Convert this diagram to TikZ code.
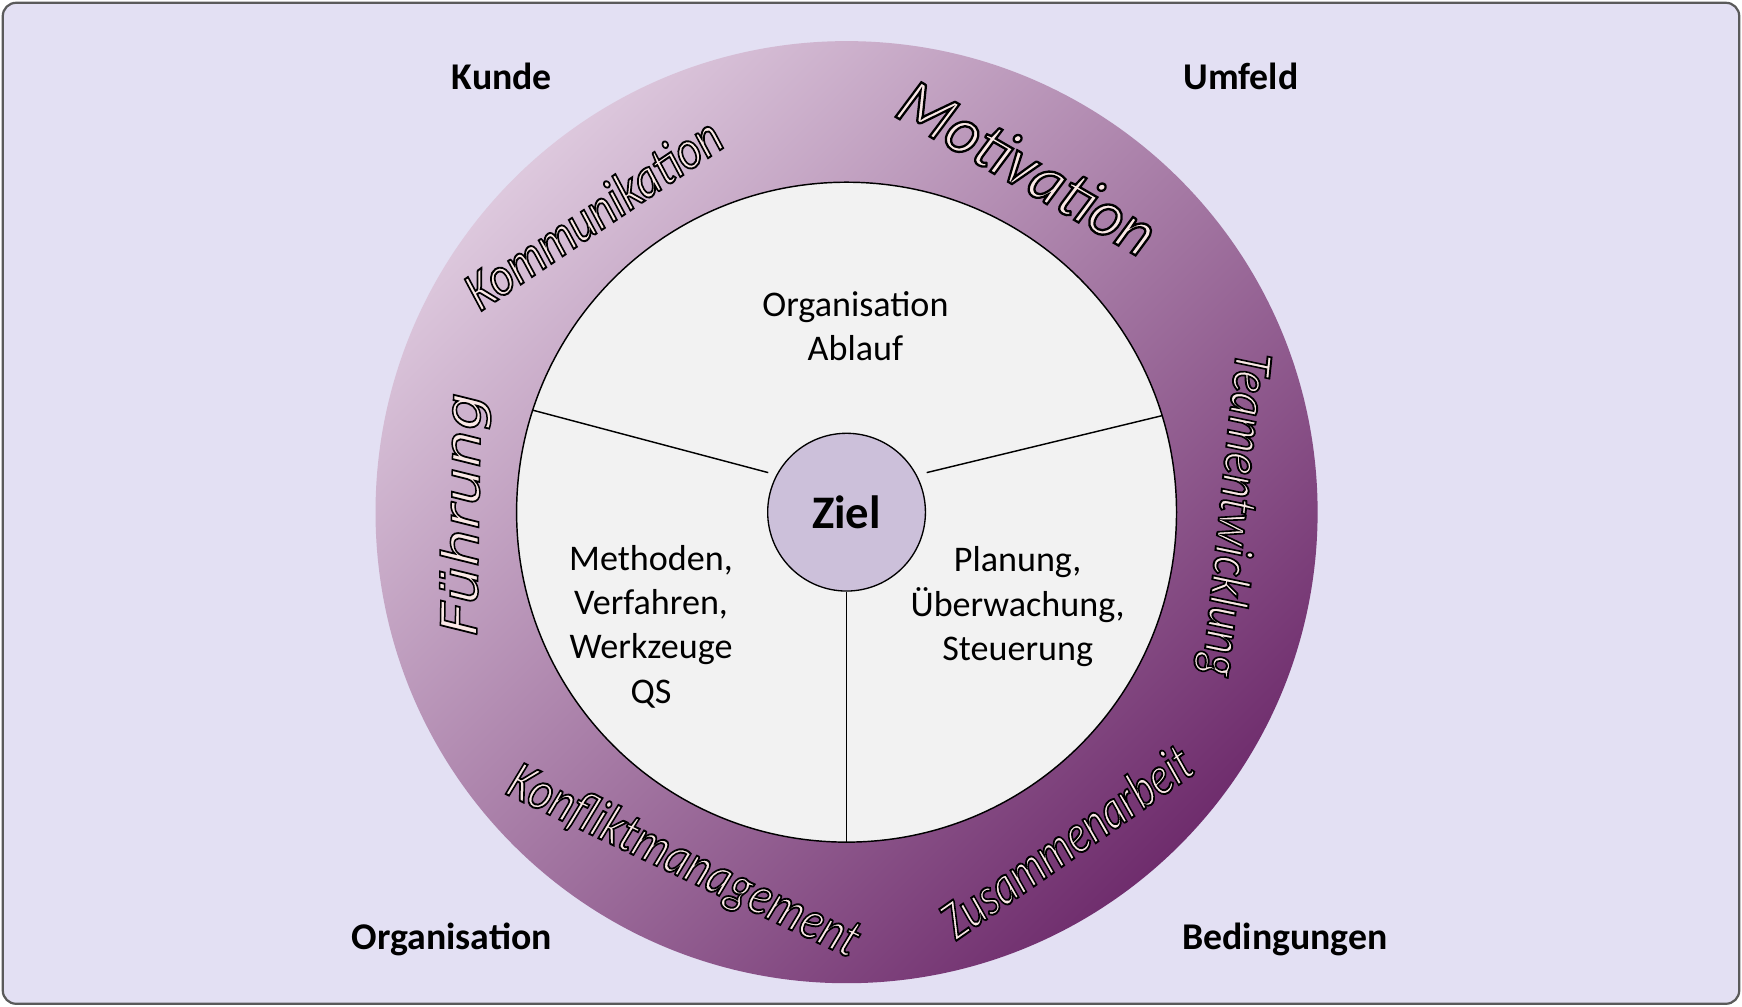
\documentclass[tikz,border=0pt]{standalone}
\usepackage{fontspec}
\usepackage{graphicx}
\setmainfont{Carlito}
\newfontfamily\ringfont{Carlito Italic}[FakeBold=3.5]
\newfontfamily\fuehrfont{DejaVu Sans Oblique}[FakeBold=3]
\definecolor{bgc}{HTML}{E3E0F3}
\definecolor{framec}{HTML}{5A5A5A}
\definecolor{ringA}{HTML}{DDC8DD}
\definecolor{ringM}{HTML}{A98AAA}
\definecolor{ringB}{HTML}{6F2D6D}
\definecolor{innerc}{HTML}{F2F2F2}
\definecolor{zielc}{HTML}{CCC0DA}
\definecolor{olfill}{HTML}{FAE8E6}
\newcommand\olt[2]{\scalebox{#1}[1]{\special{pdf:code 0 0 0 RG}#2}}
\begin{document}
\begin{tikzpicture}[x=1pt,y=-1pt,
  lbl/.style={font=\bfseries\fontsize{34}{40}\selectfont, inner sep=0},
  intxt/.style={font=\fontsize{32.5}{40}\selectfont, align=center, inner sep=0},
  ringtxt/.style={anchor=base, inner sep=0, text=olfill, font=\ringfont\fontsize{50}{50}\selectfont},
  divline/.style={line width=1.3pt, draw=black}]
\useasboundingbox (0,0) rectangle (1568,906);
\draw[fill=bgc, draw=framec, line width=2pt, rounded corners=12pt] (2.5,2.5) rectangle (1565.5,903.5);
% ring
\node[circle, minimum size=848pt, inner sep=0, top color=ringA, middle color=ringM, bottom color=ringB, shading angle=45] (ring) at (762,461) {};
\node[circle, minimum size=594pt, inner sep=0, fill=innerc, draw=black, line width=1.3pt] (inner) at (762,461) {};
\node[circle, minimum size=142pt, inner sep=0, fill=zielc, draw=black, line width=1.2pt, font=\bfseries\fontsize{42}{42}\selectfont] (ziel) at (762,461) {Ziel};
% dividing lines
\coordinate (lB) at (691.5,425.4);
\coordinate (rA) at (834.1,425.4);
\draw[divline] (inner.162.7) -- (lB);
\draw[divline] (rA) -- (inner.17.2);
\draw[divline] (ziel.south) -- (inner.south);
% inner texts
\node[intxt] (orgab) at (770,293.5) {Organisation\\Ablauf};
\node[intxt] (meth) at (586,564) {Methoden,\\Verfahren,\\Werkzeuge\\QS};
\node[intxt] (plan) at (916,546) {Planung,\\Überwachung,\\Steuerung};
% corner labels
\node[lbl, anchor=base east] (kunde) at (497,81) {Kunde};
\node[lbl, anchor=base west] (umfeld) at (1065,81) {Umfeld};
\node[lbl, anchor=base east] (orga) at (497,855) {Organisation};
\node[lbl, anchor=base west] (bed) at (1064,855) {Bedingungen};
% ring texts
\node[ringtxt, rotate=34] (komm) at (543,206) {\olt{0.84}{Kommunikation}};
\node[ringtxt, rotate=-30, font=\ringfont\fontsize{60}{60}\selectfont] (moti) at (915,168) {\olt{0.96}{Motivation}};
\node[ringtxt, rotate=-96] (team) at (1097.5,462) {\olt{0.83}{Teamentwicklung}};
\node[ringtxt, rotate=35] (zus) at (969,771) {\olt{0.77}{Zusammenarbeit}};
\node[ringtxt, rotate=-25.5] (konf) at (609,788) {\olt{0.81}{Konfliktmanagement}};
\node[ringtxt, rotate=89, font=\fuehrfont\fontsize{45}{45}\selectfont] (fuehr) at (431,463) {\olt{1.18}{Führung}};
\end{tikzpicture}
\end{document}
